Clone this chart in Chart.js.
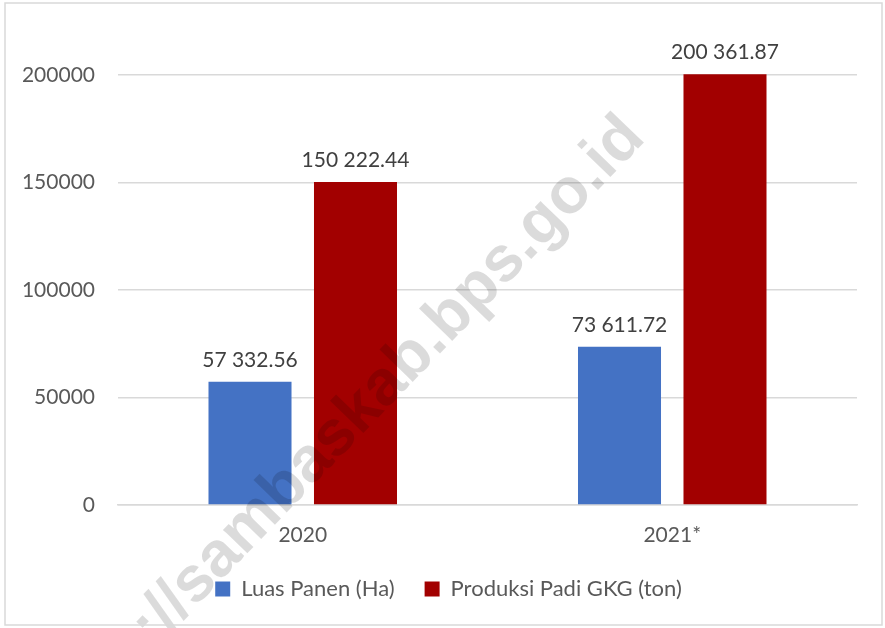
<!DOCTYPE html>
<html>
<head>
<meta charset="utf-8">
<script src="https://cdn.jsdelivr.net/npm/chart.js@4.4.0/dist/chart.umd.min.js"></script>
<style>
  html, body { margin: 0; padding: 0; background: #fff; }
  #wrap { width: 885px; height: 628px; position: relative; }
</style>
</head>
<body>
<div id="wrap"><canvas id="chart" width="885" height="628"></canvas></div>
<script>
const years = ['2020', '2021*']
const luasPanen = [57332.56, 73611.72]
const produksiPadi = [150222.44, 200361.87]
const seriesNames = ['Luas Panen (Ha)', 'Produksi Padi GKG (ton)']
const yTicks = [0, 50000, 100000, 150000, 200000]

const textColor = '#595959'
const gridColor = '#D9D9D9'
const fontFamily = 'Lato, "Open Sans", sans-serif'

// 57332.56 -> "57 332.56"
const formatValue = (v) => {
  const [whole, dec] = v.toFixed(2).split('.')
  return whole.replace(/\B(?=(\d{3})+(?!\d))/g, ' ') + '.' + dec
}

const valueLabels = {
  id: 'valueLabels',
  afterDatasetsDraw(chart) {
    const ctx = chart.ctx
    ctx.save()
    ctx.font = '21px ' + fontFamily
    ctx.fillStyle = '#404040'
    ctx.textAlign = 'center'
    ctx.textBaseline = 'bottom'
    chart.data.datasets.forEach((ds, i) => {
      chart.getDatasetMeta(i).data.forEach((bar, j) => {
        ctx.fillText(formatValue(ds.data[j]), bar.x, bar.y - 11)
      })
    })
    ctx.restore()
  }
}

// legend sits a bit right of the canvas centre in the original
const legendShift = {
  id: 'legendShift',
  afterLayout(chart) {
    chart.legend.left += 20
    chart.legend.right += 20
  }
}

// site watermark + outer frame
const decor = {
  id: 'decor',
  afterDraw(chart) {
    const ctx = chart.ctx
    ctx.save()
    ctx.translate(334, 438)
    ctx.rotate(-46 * Math.PI / 180)
    ctx.font = 'bold 64px "Liberation Sans", Arial, sans-serif'
    ctx.fillStyle = 'rgba(0, 0, 0, 0.14)'
    ctx.textAlign = 'center'
    ctx.textBaseline = 'middle'
    ctx.fillText('https://sambaskab.bps.go.id', 0, 0)
    ctx.restore()

    ctx.save()
    ctx.strokeStyle = gridColor
    ctx.lineWidth = 1.5
    ctx.strokeRect(5, 3, 877, 622)
    ctx.restore()
  }
}

new Chart(document.getElementById('chart'), {
  type: 'bar',
  data: {
    labels: years,
    datasets: [
      {
        label: seriesNames[0],
        data: luasPanen,
        backgroundColor: '#4472C4',
        categoryPercentage: 0.571,
        barPercentage: 0.787,
        clip: false
      },
      {
        label: seriesNames[1],
        data: produksiPadi,
        backgroundColor: '#A20000',
        categoryPercentage: 0.571,
        barPercentage: 0.787,
        clip: false
      }
    ]
  },
  options: {
    responsive: false,
    animation: false,
    layout: { padding: { top: 75, right: 28, bottom: 18, left: 0 } },
    plugins: {
      legend: {
        position: 'bottom',
        labels: {
          boxWidth: 15,
          boxHeight: 15,
          padding: 30,
          color: textColor,
          font: { family: fontFamily, size: 22 }
        }
      },
      tooltip: { enabled: false }
    },
    scales: {
      x: {
        grid: { display: false, drawTicks: false },
        border: { display: true, color: gridColor, width: 1.5 },
        ticks: { color: textColor, padding: 18, font: { family: fontFamily, size: 21 } },
        afterFit: (scale) => { scale.height = 43 }
      },
      y: {
        min: 0,
        max: 200000,
        afterBuildTicks: (scale) => { scale.ticks = yTicks.map(v => ({ value: v })) },
        grid: { color: gridColor, lineWidth: 1.5, drawTicks: false },
        border: { display: false },
        ticks: {
          color: textColor,
          padding: 23,
          font: { family: fontFamily, size: 21 },
          callback: (v) => String(v)
        },
        afterFit: (scale) => { scale.width = 118 }
      }
    }
  },
  plugins: [valueLabels, legendShift, decor]
})
</script>
</body>
</html>
